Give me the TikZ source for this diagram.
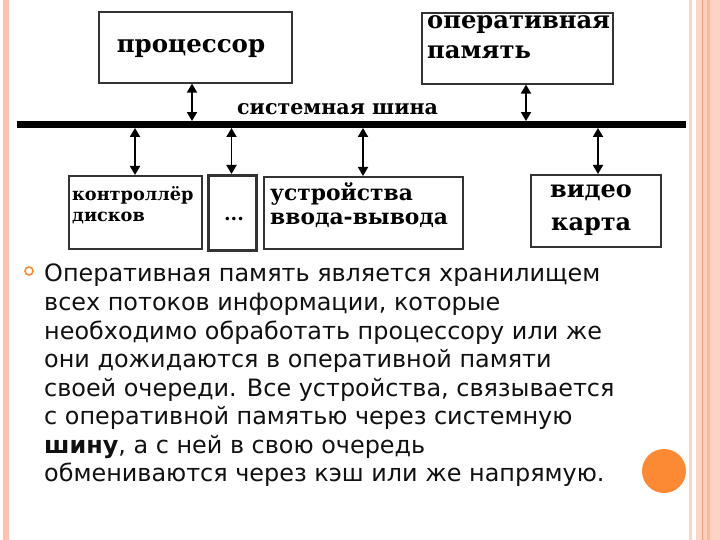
\documentclass[tikz,border=0pt]{standalone}
\usepackage{fontspec}
\usetikzlibrary{arrows.meta}
\newfontfamily\dserif{DejaVu Serif}
\newfontfamily\dsans{DejaVu Sans}
\definecolor{stripeL}{HTML}{FBC3B2}
\definecolor{stripeA}{HTML}{FBD5C8}
\definecolor{stripeB}{HTML}{F0A070}
\definecolor{stripeC}{HTML}{FCD0BE}
\definecolor{stripeD}{HTML}{FDB79A}
\definecolor{stripeE}{HTML}{FDD3C3}
\definecolor{boxgray}{HTML}{333333}
\definecolor{dotorange}{HTML}{FC8A35}
\definecolor{txt}{HTML}{111111}
\begin{document}
\begin{tikzpicture}[x=1pt,y=-1pt,
  box/.style={draw=boxgray, line width=1.6pt, inner sep=0pt, anchor=north west},
  lbl/.style={inner sep=0pt, anchor=base west, font=\dserif\bfseries},
  link/.style={{Triangle[length=9pt,width=10pt]}-{Triangle[length=9pt,width=10pt]}, line width=1.8pt, black}]
\useasboundingbox (0,0) rectangle (720,540);
\fill[white] (0,0) rectangle (720,540);
% borders
\fill[stripeL] (3,0) rectangle (9,540);
\fill[stripeA] (689,0) rectangle (692,540);
\fill[stripeA] (696,0) rectangle (702,540);
\fill[stripeB] (702,0) rectangle (703,540);
\fill[stripeC] (703,0) rectangle (707,540);
\fill[stripeD] (707,0) rectangle (710,540);
\fill[stripeE] (710,0) rectangle (720,540);
% boxes
\node[box, minimum width=193, minimum height=71] (proc) at (98,11) {};
\node[box, minimum width=191, minimum height=71] (ram) at (421,12) {};
\node[box, minimum width=133, minimum height=73] (ctrl) at (68,175) {};
\node[box, line width=2.6pt, minimum width=48, minimum height=75] (dots) at (207,174) {};
\node[box, minimum width=199, minimum height=72] (io) at (263,176) {};
\node[box, minimum width=130, minimum height=72] (vid) at (530,174) {};
% bus
\node[fill=black, inner sep=0pt, minimum width=669, minimum height=6.5] (bus) at (351.5,124.5) {};
% labels
\node[lbl, anchor=base, font=\dserif\bfseries\fontsize{24.5}{28}\selectfont] (tproc) at (191,53) {процессор};
\node[lbl, font=\dserif\bfseries\fontsize{24.2}{28}\selectfont] (tram1) at (427,29) {оперативная};
\node[lbl, font=\dserif\bfseries\fontsize{24.2}{28}\selectfont] (tram2) at (427,59) {память};
\node[lbl, font=\dserif\bfseries\fontsize{20.6}{22}\selectfont] (tbus) at (237,115) {системная шина};
\node[lbl, font=\dserif\bfseries\fontsize{17.7}{20}\selectfont] (tctrl1) at (72,201) {контроллёр};
\node[lbl, font=\dserif\bfseries\fontsize{17.7}{20}\selectfont] (tctrl2) at (72,222) {дисков};
\node[lbl, anchor=base, font=\dserif\bfseries\fontsize{19}{20}\selectfont] (tdots) at (234,221) {...};
\node[lbl, font=\dserif\bfseries\fontsize{21.8}{24}\selectfont] (tio1) at (270,201) {устройства};
\node[lbl, font=\dserif\bfseries\fontsize{21.8}{24}\selectfont] (tio2) at (270,225) {ввода-вывода};
\node[lbl, font=\dserif\bfseries\fontsize{24}{28}\selectfont] (tvid1) at (550,198) {видео};
\node[lbl, font=\dserif\bfseries\fontsize{24}{28}\selectfont] (tvid2) at (551,230) {карта};
% connectors
\coordinate (pa) at (192,0);
\coordinate (ra) at (526,0);
\coordinate (ca) at (135,0);
\coordinate (da) at (231.5,0);
\coordinate (ia) at (363,0);
\coordinate (va) at (598,0);
\draw[link] (pa |- proc.south) -- (pa |- bus.north);
\draw[link] (ra |- ram.south) -- (ra |- bus.north);
\draw[link] (ca |- bus.south) -- (ca |- ctrl.north);
\draw[link] (da |- bus.south) -- (da |- dots.north);
\draw[link] (ia |- bus.south) -- (ia |- io.north);
\draw[link] (va |- bus.south) -- (va |- vid.north);
% bullet
\node[draw=dotorange, line width=1.6pt, circle, minimum size=8, inner sep=0pt] (bul) at (29,271) {};
\node[inner sep=0pt, anchor=north west, align=left, text=txt, font=\dsans\fontsize{23.9}{28.57}\selectfont] (para) at (44,264) {Оперативная память является хранилищем\\
всех потоков информации, которые\\
необходимо обработать процессору или же\\
они дожидаются в оперативной памяти\\
своей очереди. Все устройства, связывается\\
с оперативной памятью через системную\\
\textbf{шину}, а с ней в свою очередь\\
обмениваются через кэш или же напрямую.};
\node[fill=dotorange, circle, minimum size=44, inner sep=0pt] (orb) at (664,471) {};
\end{tikzpicture}
\end{document}
